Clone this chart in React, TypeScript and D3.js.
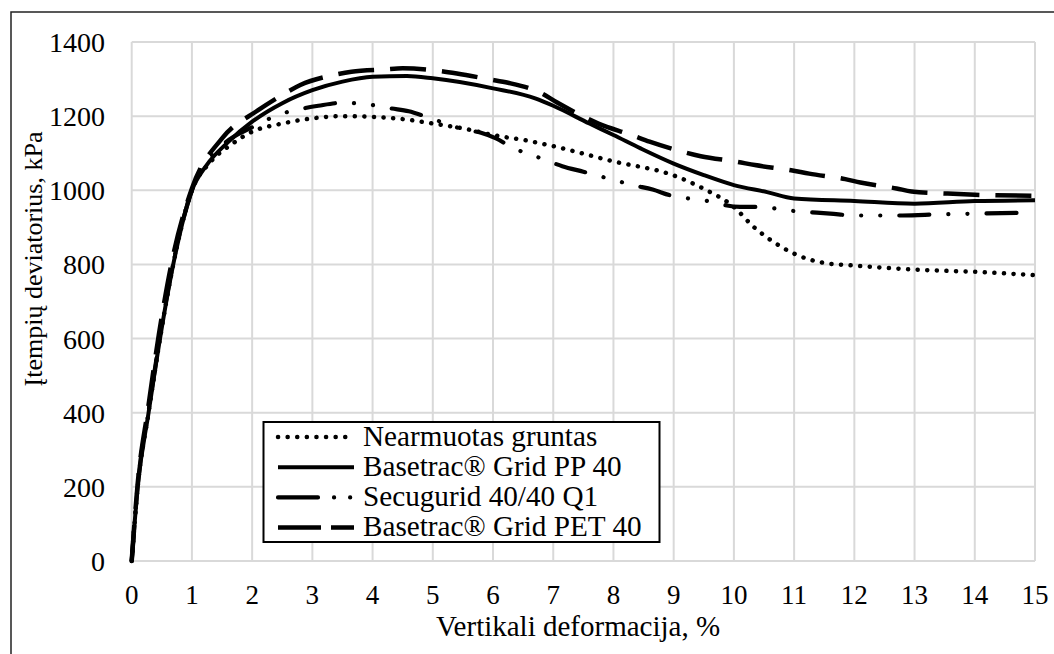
import React, { useEffect, useRef } from 'react'
import * as d3 from 'd3'

const seriesNames = ['Nearmuotas gruntas', 'Basetrac® Grid PP 40', 'Secugurid 40/40 Q1', 'Basetrac® Grid PET 40']

const nearmX = [0, 0.1, 0.28, 0.47, 0.69, 1.0, 1.3, 1.64, 2.0, 2.5, 3.0, 3.5, 4.0, 4.5, 5.0, 5.5, 6.0, 6.6, 7.0, 8.0, 9.0, 9.5, 10.0, 10.33, 10.6, 11.0, 11.5, 12.0, 13.0, 14.0, 15.0]
const nearmY = [0, 200, 400, 600, 800, 1000, 1075, 1122, 1158, 1180, 1194, 1200, 1198, 1192, 1180, 1167, 1149, 1133, 1119, 1078, 1040, 1004, 955, 901, 867, 829, 804, 797, 786, 780, 771]

const ppX = [0, 0.1, 0.28, 0.47, 0.69, 1.0, 1.245, 1.6, 2.0, 2.5, 3.0, 3.5, 4.0, 4.57, 5.0, 6.0, 6.7, 7.0, 7.6, 8.0, 8.45, 9.0, 9.5, 10.0, 10.55, 11.0, 12.0, 13.0, 14.0, 15.0]
const ppY = [0, 200, 400, 600, 800, 1000, 1068, 1130, 1185, 1235, 1270, 1293, 1306, 1308, 1302, 1275, 1248, 1228, 1180, 1149, 1113, 1072, 1041, 1014, 995, 978, 971, 964, 971, 973]

const secuX = [0, 0.1, 0.28, 0.47, 0.69, 1.0, 1.5, 2.0, 2.5, 2.8, 3.1, 3.5, 4.0, 4.3, 4.6, 4.9, 5.5, 5.8, 6.05, 6.3, 6.8, 7.15, 7.5, 8.0, 8.35, 8.65, 8.95, 9.5, 10.1, 10.4, 11.0, 11.6, 12.0, 12.8, 13.4, 14.0, 15.0]
const secuY = [0, 205, 405, 605, 805, 1000, 1120, 1170, 1207, 1219, 1228, 1236, 1230, 1221, 1213, 1198, 1165, 1155, 1140, 1117, 1086, 1065, 1050, 1028, 1013, 1002, 986, 973, 955, 955, 944, 937, 932, 932, 935, 937, 940]

const petX = [0, 0.1, 0.27, 0.45, 0.67, 1.0, 1.5, 2.1, 2.55, 2.8, 3.35, 3.65, 4.2, 4.5, 5.1, 5.4, 5.95, 6.25, 6.8, 7.05, 7.45, 7.75, 8.3, 8.6, 9.15, 9.45, 10.05, 10.35, 10.95, 11.25, 11.85, 12.1, 12.7, 12.95, 13.55, 14.0, 15.0]
const petY = [0, 210, 410, 610, 810, 1005, 1140, 1216, 1262, 1284, 1311, 1320, 1326, 1329, 1322, 1315, 1299, 1290, 1262, 1238, 1203, 1180, 1149, 1131, 1104, 1092, 1077, 1068, 1054, 1045, 1030, 1021, 1005, 997, 991, 988, 985]

const xTicks = [0, 1, 2, 3, 4, 5, 6, 7, 8, 9, 10, 11, 12, 13, 14, 15]
const yTicks = [0, 200, 400, 600, 800, 1000, 1200, 1400]

const xTitle = 'Vertikali deformacija, %'
const yTitle = 'Įtempių deviatorius, kPa'

const App = () => {
    const svgRef = useRef<SVGSVGElement>(null)

    useEffect(() => {
        const width = 1054
        const height = 654
        const left = 131.7, right = 1035, top = 42, bottom = 561

        const svg = d3.select(svgRef.current)
        svg.selectAll('*').remove()
        svg.attr('width', width).attr('height', height)
            .style('font-family', "'Liberation Serif', 'Times New Roman', 'DejaVu Serif', serif")

        svg.append('rect').attr('width', width).attr('height', height).attr('fill', '#fff')
        // outer chart frame
        svg.append('rect')
            .attr('x', 11).attr('y', 12).attr('width', 1200).attr('height', 800)
            .attr('fill', 'none').attr('stroke', '#222').attr('stroke-width', 1.5)

        const x = d3.scaleLinear().domain([0, 15]).range([left, right])
        const y = d3.scaleLinear().domain([0, 1400]).range([bottom, top])

        const grid = svg.append('g').attr('stroke', '#d9d9d9').attr('stroke-width', 2)
        grid.selectAll('line.v').data(xTicks).join('line').attr('class', 'v')
            .attr('x1', d => x(d)).attr('x2', d => x(d)).attr('y1', top).attr('y2', bottom)
        grid.selectAll('line.h').data(yTicks).join('line').attr('class', 'h')
            .attr('x1', left).attr('x2', right).attr('y1', d => y(d)).attr('y2', d => y(d))

        svg.append('g').selectAll('text').data(xTicks).join('text')
            .attr('x', d => x(d)).attr('y', 604)
            .attr('text-anchor', 'middle')
            .attr('font-size', 27)
            .text(d => d)

        svg.append('g').selectAll('text').data(yTicks).join('text')
            .attr('x', 105).attr('y', d => y(d) + 10)
            .attr('text-anchor', 'end')
            .attr('font-size', 28)
            .text(d => d)

        svg.append('text')
            .attr('x', 578).attr('y', 636)
            .attr('text-anchor', 'middle')
            .attr('font-size', 29)
            .text(xTitle)

        svg.append('text')
            .attr('transform', `translate(42, 259) rotate(-90)`)
            .attr('text-anchor', 'middle')
            .attr('font-size', 26)
            .text(yTitle)

        const styles = [
            { dash: '0.1 9.5', cap: 'round', w: 4.5, legendDash: '0.1 9.5' },
            { dash: null, cap: 'butt', w: 4, legendDash: null },
            { dash: '30 19 0.1 19 0.1 19', cap: 'round', w: 4.2, legendDash: '40 16 0.1 16 0.1 16' },
            { dash: '36 16', cap: 'butt', w: 4.5, legendDash: '43 10 40' },
        ]

        const allX = [nearmX, ppX, secuX, petX]
        const allY = [nearmY, ppY, secuY, petY]

        const line = d3.line<[number, number]>()
            .x(d => x(d[0]))
            .y(d => y(d[1]))
            .curve(d3.curveMonotoneX)

        allX.forEach((xs, i) => {
            const pts = xs.map((v, j) => [v, allY[i][j]] as [number, number])
            svg.append('path')
                .datum(pts)
                .attr('d', line)
                .attr('fill', 'none')
                .attr('stroke', '#000')
                .attr('stroke-width', styles[i].w)
                .attr('stroke-linecap', styles[i].cap)
                .attr('stroke-linejoin', 'round')
                .attr('stroke-dasharray', styles[i].dash)
        })

        // legend
        const lg = svg.append('g')
        lg.append('rect')
            .attr('x', 263.5).attr('y', 422).attr('width', 396).attr('height', 120)
            .attr('fill', '#fff').attr('stroke', '#000').attr('stroke-width', 2)

        seriesNames.forEach((name, i) => {
            const base = 445.5 + i * 30.2
            lg.append('line')
                .attr('x1', 278).attr('x2', 354)
                .attr('y1', base - 8.5).attr('y2', base - 8.5)
                .attr('stroke', '#000')
                .attr('stroke-width', styles[i].w)
                .attr('stroke-linecap', styles[i].cap)
                .attr('stroke-dasharray', styles[i].legendDash)
            lg.append('text')
                .attr('x', 363).attr('y', base)
                .attr('font-size', 29.2)
                .text(name)
        })
    }, [])

    return (
        <svg ref={svgRef} style={{ position: 'fixed', left: 0, top: 0, display: 'block' }}></svg>
    )
}

export default App
